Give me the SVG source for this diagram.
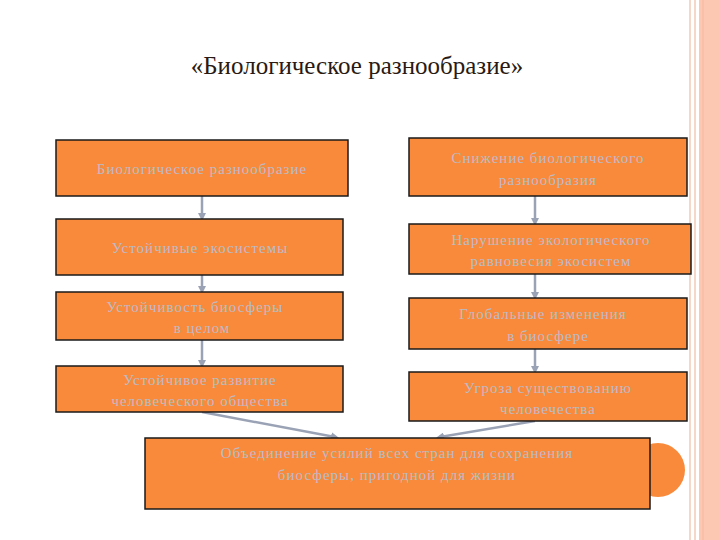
<svg xmlns="http://www.w3.org/2000/svg" width="720" height="540" viewBox="0 0 720 540">
<style>
.b{fill:#f98a3b;stroke:#1a1a1a;stroke-width:1.5}
.t{font-family:"Liberation Serif",serif;font-size:15px;fill:#b9bcc6;text-anchor:middle;letter-spacing:1px}
.c{stroke:#9aa3b5;stroke-width:2.5;fill:none;marker-end:url(#a)}
</style>
<defs><marker id="a" markerWidth="8" markerHeight="8" refX="4" refY="4" orient="auto" markerUnits="userSpaceOnUse"><path d="M0,0L8,4L0,8z" fill="#9aa3b5"/></marker></defs>
<rect width="720" height="540" fill="#fff"/>
<line x1="690" y1="0" x2="690" y2="540" stroke="#f4d7c8" stroke-width="2"/>
<line x1="695" y1="0" x2="695" y2="540" stroke="#f4d7c8" stroke-width="2"/>
<rect x="699" y="0" width="21" height="540" fill="#fcc8b2"/>
<line x1="703" y1="0" x2="703" y2="540" stroke="#f7b79c" stroke-width="1"/>
<text x="357" y="74" font-family="Liberation Serif,serif" font-size="25" fill="#2a1a12" text-anchor="middle">«Биологическое  разнообразие»</text>
<g id="conn">
<line class="c" x1="202" y1="196" x2="202" y2="217"/>
<line class="c" x1="202" y1="275" x2="202" y2="290"/>
<line class="c" x1="202" y1="340" x2="202" y2="364"/>
<line class="c" x1="535" y1="196" x2="535" y2="222"/>
<line class="c" x1="535" y1="274" x2="535" y2="296"/>
<line class="c" x1="535" y1="349" x2="535" y2="370"/>
<line class="c" x1="202" y1="412" x2="335" y2="437"/>
<line class="c" x1="535" y1="421" x2="440" y2="437"/>
</g>
<g id="l1"><rect class="b" x="56" y="140" width="292" height="56"/><text class="t" x="202" y="174">Биологическое  разнообразие</text></g>
<g id="l2"><rect class="b" x="56" y="219" width="287" height="56"/><text class="t" x="200" y="253">Устойчивые  экосистемы</text></g>
<g id="l3"><rect class="b" x="56" y="292" width="287" height="48"/><text class="t" x="195" y="312">Устойчивость  биосферы</text><text class="t" x="202" y="333">в  целом</text></g>
<g id="l4"><rect class="b" x="56" y="366" width="287" height="46"/><text class="t" x="200" y="385">Устойчивое  развитие</text><text class="t" x="200" y="406">человеческого  общества</text></g>
<g id="r1"><rect class="b" x="409" y="138" width="278" height="58"/><text class="t" x="548" y="163">Снижение  биологического</text><text class="t" x="548" y="185">разнообразия</text></g>
<g id="r2"><rect class="b" x="409" y="224" width="282" height="50"/><text class="t" x="551" y="245">Нарушение  экологического</text><text class="t" x="551" y="266">равновесия  экосистем</text></g>
<g id="r3"><rect class="b" x="409" y="298" width="278" height="51"/><text class="t" x="543" y="319">Глобальные  изменения</text><text class="t" x="548" y="341">в  биосфере</text></g>
<g id="r4"><rect class="b" x="409" y="372" width="278" height="49"/><text class="t" x="548" y="393">Угроза  существованию</text><text class="t" x="548" y="414">человечества</text></g>
<circle cx="658" cy="470" r="27" fill="#f98a3b"/>
<g id="b"><rect class="b" x="145" y="438" width="505" height="71"/><text class="t" x="397" y="458">Объединение  усилий  всех  стран  для  сохранения</text><text class="t" x="397" y="480">биосферы,  пригодной  для  жизни</text></g>
</svg>
